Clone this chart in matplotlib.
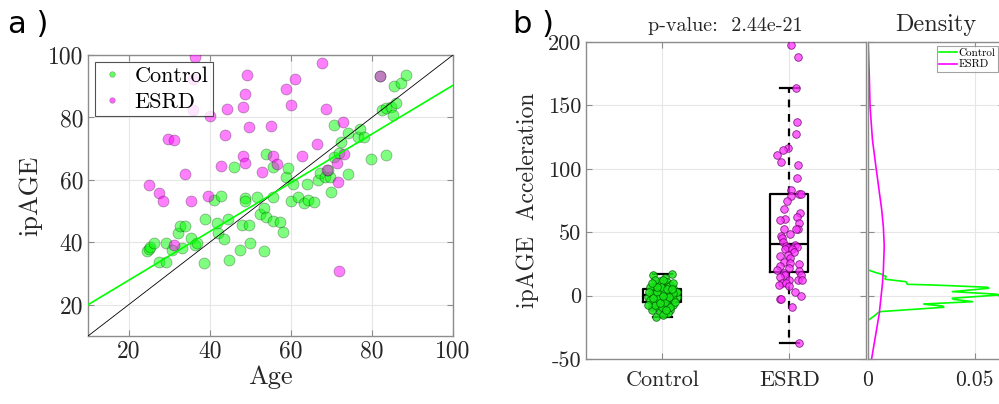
import numpy as np
import matplotlib
matplotlib.use('Agg')
import matplotlib.pyplot as plt
from matplotlib.lines import Line2D

plt.rcParams['font.family'] = 'cmr10'
plt.rcParams['axes.unicode_minus'] = False
plt.rcParams['axes.formatter.use_mathtext'] = False

# ---- panel a: ipAGE vs age ----
ctrl_age = [24.5, 25.0, 25.3, 26.2, 27.6, 29.2, 29.2, 30.8, 32.3, 32.7, 33.9, 33.1, 35.4,
            36.4, 36.8, 38.5, 38.9, 41.0, 42.7, 41.7, 42.1, 43.5, 44.6, 44.8, 46.0, 47.4,
            48.0, 48.8, 48.8, 49.6, 50.0, 51.7, 52.5, 53.4, 53.5, 53.8, 54.0, 55.5, 55.5,
            55.6, 57.3, 58.1, 58.8, 59.3, 60.0, 60.6, 61.7, 63.2, 63.9, 64.3, 65.7, 66.8,
            67.2, 68.4, 69.6, 69.8, 70.6, 70.7, 72.0, 72.3, 74.2, 74.2, 76.5, 77.1, 78.1,
            79.7, 82.6, 83.6, 83.6, 84.8, 85.1, 86.0, 85.5, 87.1, 88.4, 82.0, 69.1]
ctrl_ipage = [37.3, 37.8, 38.6, 39.7, 33.7, 33.7, 39.9, 37.5, 42.9, 45.2, 45.2, 38.1, 41.5,
              39.1, 39.9, 33.3, 47.5, 53.6, 54.9, 46.3, 42.9, 41.0, 47.5, 34.3, 64.2, 37.5,
              45.4, 54.1, 53.3, 45.4, 39.7, 54.4, 49.1, 50.9, 37.3, 68.3, 48.2, 54.6, 64.2,
              46.9, 46.6, 43.4, 61.0, 63.7, 53.2, 58.6, 54.6, 52.7, 58.6, 53.6, 52.9, 60.0,
              62.3, 60.8, 61.0, 56.0, 77.6, 67.2, 68.7, 72.2, 74.9, 61.9, 73.8, 76.2, 73.8,
              66.6, 82.4, 82.9, 68.0, 83.5, 80.8, 84.5, 90.1, 90.9, 93.7, 93.3, 63.1]
esrd_age = [36.4, 35.8, 35.8, 49.1, 48.6, 48.1, 49.6, 44.2, 40.0, 43.9, 29.7, 31.1, 34.0,
            25.0, 27.5, 28.4, 35.4, 39.5, 42.7, 48.1, 48.6, 55.0, 55.5, 56.5, 52.9, 67.8,
            61.1, 58.7, 60.0, 68.7, 66.5, 62.8, 72.8, 73.2, 71.4, 69.0, 71.6, 71.8, 81.9,
            31.1]
esrd_ipage = [99.5, 92.4, 82.5, 93.6, 87.4, 83.5, 77.0, 82.8, 80.6, 74.4, 73.2, 72.7, 61.9,
              58.3, 55.7, 53.1, 53.1, 54.9, 64.4, 67.6, 65.5, 77.4, 67.6, 65.1, 62.4, 97.5,
              92.3, 89.0, 83.9, 82.7, 71.6, 67.6, 78.5, 68.2, 65.3, 63.2, 59.3, 30.7, 93.3,
              39.3]
fit_slope = 0.781
fit_intercept = 12.2

# ---- panel b: acceleration ----
groups = ['Control', 'ESRD']
ctrl_acc = [16.3, 17.1, 13.7, 11.8, 11.1, 9.2, 8.4, 7.1, 5.8, 5.8, 3.9, 3.2, 1.8, 1.8, 0.5,
            -0.8, -2.1, -0.8, -0.8, -3.4, -4.7, -4.7, -7.4, -7.4, -8.7, -10.0, -8.7, -11.3,
            -12.6, -11.3, -12.6, -16.6, -14.0, -3.4, -6.0, -2.1, 9.7, 12.4, 3.2, 7.1, 12.4,
            7.1, -0.3, -2.9, 0.5, 1.8, 4.5, 3.2, -8.7, -8.7, -7.4, 3.2, -15.3, 9.7, 3.2,
            -4.7, -2.9, 1.8, 7.1, 5.0, -2.1, -0.8, -7.4, -4.7, -5.5, -0.3, 6.6, 5.0, 9.7,
            -11.3]
ctrl_jit = [-0.076, 0.073, 0.021, -0.018, 0.034, -0.045, 0.060, 0.008, -0.071, 0.087,
            -0.031, 0.047, -0.005, -0.084, 0.073, 0.021, -0.045, -0.110, 0.113, -0.005,
            0.060, -0.071, 0.087, 0.008, -0.084, -0.031, 0.034, 0.060, -0.018, -0.084,
            0.021, -0.050, 0.047, -0.097, -0.031, 0.034, -0.018, -0.058, 0.100, -0.097,
            0.008, 0.047, -0.024, 0.081, -0.066, 0.039, 0.003, -0.045, 0.060, -0.005,
            -0.058, 0.113, 0.008, 0.081, -0.102, 0.021, -0.031, 0.087, -0.013, 0.034,
            -0.071, 0.055, -0.110, 0.100, -0.018, 0.008, -0.045, 0.073, -0.084, 0.029]
esrd_acc = [197.9, 188.2, 163.7, 137.1, 127.4, 116.3, 114.5, 110.8, 105.3, 102.9, 92.6,
            83.4, 78.7, 80.0, 80.0, 74.7, 68.4, 65.5, 61.8, 57.6, 60.3, 59.5, 52.4, 52.4,
            52.4, 48.4, 47.1, 45.3, 42.6, 39.2, 40.0, 38.7, 37.4, 36.6, 36.6, 34.0, 32.1,
            31.3, 29.5, 26.8, 25.5, 25.0, 23.7, 22.1, 20.3, 19.7, 18.2, 16.3, 16.3, 15.0,
            12.4, 12.4, 12.4, 9.7, 8.4, 9.7, 7.6, 3.2, -0.3, -2.4, -2.9, -8.7, -37.1]
esrd_jit = [0.013, 0.068, 0.050, 0.060, 0.050, -0.013, -0.050, -0.097, -0.066, 0.068,
            0.063, 0.013, 0.013, 0.079, 0.092, -0.018, -0.039, 0.087, 0.060, 0.079,
            -0.032, -0.071, 0.068, 0.052, -0.039, 0.008, -0.066, -0.058, -0.050, -0.024,
            0.047, 0.060, -0.013, -0.032, 0.024, 0.034, -0.013, -0.076, 0.008, -0.045,
            0.003, 0.073, -0.071, -0.005, -0.097, 0.079, -0.039, -0.032, 0.094, -0.076,
            0.066, 0.100, -0.003, -0.058, -0.084, -0.024, -0.005, 0.042, 0.094, -0.071,
            -0.063, 0.021, 0.079]
box_q1 = [-5.0, 18.9]
box_med = [0.3, 40.8]
box_q3 = [5.5, 80.0]
box_lo = [-16.6, -37.1]
box_hi = [17.1, 163.7]
p_value = '2.44e-21'

# ---- density panel ----
dens_ctrl_y = [20.3, 18.1, 17.1, 15.0, 13.7, 12.9, 11.0, 10.3, 8.9, 8.4, 6.6, 5.8, 3.1,
               1.1, 0.5, -2.1, -2.9, -4.8, -6.6, -6.8, -8.2, -9.2, -12.6, -13.4, -16.1,
               -19.5]
dens_ctrl_x = [0.0003, 0.0039, 0.0062, 0.0087, 0.0082, 0.0082, 0.0178, 0.0182, 0.0186,
               0.0300, 0.0558, 0.0566, 0.0395, 0.0604, 0.0612, 0.0395, 0.0400, 0.0490,
               0.0263, 0.0263, 0.0349, 0.0356, 0.0062, 0.0050, 0.0031, 0.0003]
dens_esrd_y = [199, 175, 149, 123, 102, 83, 68, 54, 39, 20, 10, -14, -30, -50]
dens_esrd_x = [0.0003, 0.0008, 0.0012, 0.0023, 0.0039, 0.0054, 0.0066, 0.0074, 0.0078,
               0.0074, 0.0070, 0.0055, 0.0039, 0.0019]

GREEN = (0, 1, 0)
MAG = (1, 0, 1)
SPINE = '#8c8c8c'
TXT = '#262626'
W, H = 999, 404


def style(ax, fs):
    for s in ax.spines.values():
        s.set_color(SPINE)
        s.set_linewidth(1.0)
    ax.tick_params(direction='in', top=True, right=True, length=4, width=0.8,
                   color=SPINE, labelcolor=TXT, labelsize=fs)
    ax.grid(True, color='#e6e6e6', lw=0.8)
    ax.set_axisbelow(True)


fig = plt.figure(figsize=(W / 100, H / 100), dpi=100)

# panel a
ax1 = fig.add_axes([88 / W, 1 - 336 / H, (453 - 88) / W, (336 - 55) / H])
style(ax1, 17)
ax1.scatter(ctrl_age, ctrl_ipage, s=62, facecolor=(0, 1, 0, 0.5), edgecolor=(0, 0, 0, 0.3),
            lw=0.6, zorder=3)
ax1.scatter(esrd_age, esrd_ipage, s=62, facecolor=(1, 0, 1, 0.5), edgecolor=(0, 0, 0, 0.3),
            lw=0.6, zorder=3)
xs = np.array([10, 100])
ax1.plot(xs, xs, color='k', lw=0.6, zorder=4)
ax1.plot(xs, fit_slope * xs + fit_intercept, color=GREEN, lw=1.2, zorder=4)
ax1.set_xlim(10, 100)
ax1.set_ylim(10, 100)
ax1.set_xticks([20, 40, 60, 80, 100])
ax1.set_yticks([20, 40, 60, 80, 100])
ax1.set_xlabel('Age', fontsize=19, color=TXT, labelpad=2)
ax1.set_ylabel('ipAGE', fontsize=19, color=TXT, labelpad=4)
hands = [Line2D([], [], ls='', marker='o', ms=4, mfc=(0, 1, 0, 0.6), mec=(0, 0, 0, 0.3), mew=0.5),
         Line2D([], [], ls='', marker='o', ms=4, mfc=(1, 0, 1, 0.6), mec=(0, 0, 0, 0.3), mew=0.5)]
leg = ax1.legend(hands, groups, loc='upper left', fontsize=16, frameon=True, fancybox=False,
                 borderpad=0.2, handletextpad=0.4, handlelength=1.2, labelspacing=0.3,
                 borderaxespad=0.3, edgecolor=TXT)
leg.get_frame().set_linewidth(0.8)
for t in leg.get_texts():
    t.set_color('k')

# panel b
ax2 = fig.add_axes([586 / W, 1 - 359 / H, (865.5 - 586) / W, (359 - 42) / H])
style(ax2, 16)
stats = []
for i in range(2):
    stats.append(dict(med=box_med[i], q1=box_q1[i], q3=box_q3[i],
                      whislo=box_lo[i], whishi=box_hi[i], fliers=[]))
ax2.bxp(stats, positions=[1, 2], widths=0.3, showfliers=False,
        boxprops=dict(color='k', lw=1.6),
        medianprops=dict(color='k', lw=1.6),
        whiskerprops=dict(color='k', lw=1.6, ls=(0, (3.5, 3))),
        capprops=dict(color='k', lw=1.6), zorder=2)
ax2.scatter(1 + np.array(ctrl_jit), ctrl_acc, s=30, facecolor=(0.1, 0.9, 0.1, 0.85),
            edgecolor=(0, 0.35, 0, 0.8), lw=0.6, zorder=3)
ax2.scatter(2 + np.array(esrd_jit), esrd_acc, s=30, facecolor=(1, 0.2, 1, 0.75),
            edgecolor=(0.4, 0, 0.4, 0.8), lw=0.6, zorder=3)
ax2.set_xlim(0.4, 2.6)
ax2.set_ylim(-50, 200)
ax2.set_xticks([1, 2])
ax2.set_xticklabels(groups)
ax2.set_yticks([-50, 0, 50, 100, 150, 200])
ax2.tick_params(axis='x', pad=8)
ax2.set_ylabel('ipAGE  Acceleration', fontsize=17, color=TXT, labelpad=6)
ax2.set_title('p-value:  ' + p_value, fontsize=14.5, color=TXT, pad=8)

# density panel
ax3 = fig.add_axes([867.5 / W, 1 - 359 / H, (1004 - 867.5) / W, (359 - 42) / H])
style(ax3, 15.5)
ax3.plot(dens_ctrl_x, dens_ctrl_y, color=GREEN, lw=1.2, label='Control')
ax3.plot(dens_esrd_x, dens_esrd_y, color=MAG, lw=1.2, label='ESRD')
ax3.set_ylim(-50, 200)
ax3.set_xlim(0, (1004 - 867.5) / 2146)
ax3.set_yticks([-50, 0, 50, 100, 150, 200])
ax3.set_yticklabels([])
ax3.set_xticks([0, 0.05])
ax3.set_xticklabels(['0', '0.05'])
ax3.tick_params(axis='x', pad=8)
ax3.set_title('Density', fontsize=17.5, color=TXT, pad=8)
leg3 = ax3.legend(loc='upper right', bbox_to_anchor=(998 / W, 1 - 46 / H),
                  bbox_transform=fig.transFigure, fontsize=8, frameon=True,
                  fancybox=False, borderpad=0.2, borderaxespad=0, handlelength=1.6,
                  handletextpad=0.2, labelspacing=0.15, edgecolor=SPINE)
leg3.get_frame().set_linewidth(0.8)

fig.text(8 / W, 1 - 33 / H, 'a )', fontsize=22, family='DejaVu Sans', va='baseline')
fig.text(513 / W, 1 - 33 / H, 'b )', fontsize=22, family='DejaVu Sans', va='baseline')

fig.savefig('out.png', dpi=100)
